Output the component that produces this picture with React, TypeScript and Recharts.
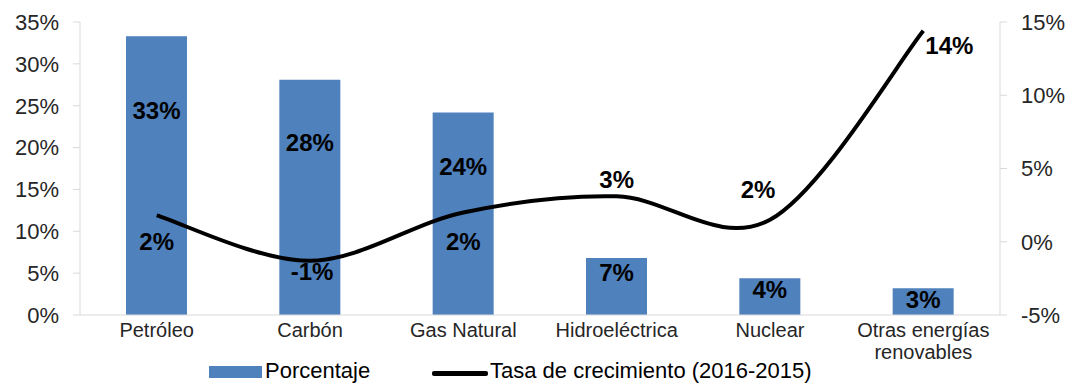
import { ComposedChart, Bar, Line, XAxis, YAxis, LabelList } from 'recharts'

const CATEGORIES = ['Petróleo', 'Carbón', 'Gas Natural', 'Hidroeléctrica', 'Nuclear', 'Otras energías renovables']
const PORCENTAJE = [33.3, 28.1, 24.2, 6.8, 4.4, 3.2]
const TASA = [1.8, -1.3, 2.0, 3.1, 1.5, 14.4]
const LEFT_TICKS = [0, 5, 10, 15, 20, 25, 30, 35]
const RIGHT_TICKS = [-5, 0, 5, 10, 15]

// where each growth label sits relative to its point [dx, dy]
const LINE_LABEL_OFFSET = [[0, 27], [2, 11], [0, 30], [0, -16], [-12, -30], [26, 15]]

const BLUE = '#4f81bd'
const AXIS = '#d9d9d9'
const LABEL_FONT = '"Liberation Sans Narrow", "Arial Narrow", sans-serif'
const TICK_FONT = '"Liberation Sans", Arial, sans-serif'

const data = CATEGORIES.map((name, i) => ({ name, pct: PORCENTAJE[i], rate: TASA[i] }))

// Excel-like smoothed line (uniform Catmull-Rom)
const smooth = (context: any) => {
  let pts: number[][] = []
  return {
    areaStart() {},
    areaEnd() {},
    lineStart() { pts = [] },
    point(x: number, y: number) { pts.push([x, y]) },
    lineEnd() {
      if (!pts.length) return
      context.moveTo(pts[0][0], pts[0][1])
      for (let i = 0; i < pts.length - 1; i++) {
        const p0 = pts[i - 1] || pts[i]
        const p1 = pts[i]
        const p2 = pts[i + 1]
        const p3 = pts[i + 2] || p2
        context.bezierCurveTo(
          p1[0] + (p2[0] - p0[0]) / 6, p1[1] + (p2[1] - p0[1]) / 6,
          p2[0] - (p3[0] - p1[0]) / 6, p2[1] - (p3[1] - p1[1]) / 6,
          p2[0], p2[1],
        )
      }
    },
  }
}

const XTick = ({ x, y, payload }: any) => {
  const words = String(payload.value).split(' ')
  const lines: string[] = []
  words.forEach((w) => {
    const last = lines[lines.length - 1]
    if (last && (last + ' ' + w).length <= 14) lines[lines.length - 1] = last + ' ' + w
    else lines.push(w)
  })
  return (
    <text x={x} y={y} textAnchor="middle" fill="#262626" fontSize={20} fontFamily={TICK_FONT}>
      {lines.map((l, i) => (
        <tspan key={i} x={x} dy={i === 0 ? 14 : 22}>{l}</tspan>
      ))}
    </text>
  )
}

const BarLabel = ({ x, y, width, height, value }: any) => {
  const cy = y + Math.max(height * 0.27, 12)
  return (
    <text x={x + width / 2} y={cy} dy={8} textAnchor="middle" fontSize={24} fontWeight="bold" fontFamily={LABEL_FONT} fill="#000">
      {`${Math.round(value)}%`}
    </text>
  )
}

const LineLabel = ({ x, y, value, index }: any) => {
  const [dx, dy] = LINE_LABEL_OFFSET[index]
  return (
    <text x={x + dx} y={y + dy} dy={8} textAnchor="middle" fontSize={24} fontWeight="bold" fontFamily={LABEL_FONT} fill="#000">
      {`${Math.round(value)}%`}
    </text>
  )
}

const legendText = { position: 'absolute' as const, top: 359, fontFamily: TICK_FONT, fontSize: 22, lineHeight: '24px', color: '#000', whiteSpace: 'nowrap' as const }

export default function App() {
  return (
    <div style={{ position: 'absolute', left: 0, top: 0, width: 1068, height: 385, background: '#fff', overflow: 'hidden' }}>
      <ComposedChart width={1068} height={385} data={data} margin={{ top: 22, right: 0, bottom: 40, left: 0 }}>
        <XAxis
          dataKey="name"
          interval={0}
          tickLine={false}
          axisLine={{ stroke: AXIS }}
          tick={<XTick />}
        />
        <YAxis
          yAxisId="left"
          width={80}
          domain={[0, 35]}
          ticks={LEFT_TICKS}
          tickFormatter={(v) => `${v}%`}
          axisLine={{ stroke: AXIS }}
          tickLine={{ stroke: AXIS }}
          tickSize={7}
          tickMargin={14}
          tick={{ fill: '#262626', fontSize: 22, fontFamily: TICK_FONT }}
        />
        <YAxis
          yAxisId="right"
          orientation="right"
          width={68}
          domain={[-5, 15]}
          ticks={RIGHT_TICKS}
          tickFormatter={(v) => `${v}%`}
          axisLine={{ stroke: AXIS }}
          tickLine={{ stroke: AXIS }}
          tickSize={7}
          tickMargin={14}
          tick={{ fill: '#262626', fontSize: 22, fontFamily: TICK_FONT }}
        />
        <Bar yAxisId="left" dataKey="pct" name="Porcentaje" fill={BLUE} barSize={61} isAnimationActive={false}>
          <LabelList dataKey="pct" content={<BarLabel />} />
        </Bar>
        <Line
          yAxisId="right"
          dataKey="rate"
          name="Tasa de crecimiento (2016-2015)"
          type={smooth as any}
          stroke="#000"
          strokeWidth={4}
          dot={false}
          activeDot={false}
          isAnimationActive={false}
        >
          <LabelList dataKey="rate" content={<LineLabel />} />
        </Line>
      </ComposedChart>
      {/* legend sits under the axis labels, overlapping the last one like the original */}
      <div style={{ position: 'absolute', left: 209, top: 366, width: 53, height: 12, background: BLUE }} />
      <div style={{ ...legendText, left: 265 }}>Porcentaje</div>
      <div style={{ position: 'absolute', left: 432, top: 371, width: 56, height: 5, borderRadius: 2, background: '#000' }} />
      <div style={{ ...legendText, left: 490 }}>Tasa de crecimiento (2016-2015)</div>
    </div>
  )
}
